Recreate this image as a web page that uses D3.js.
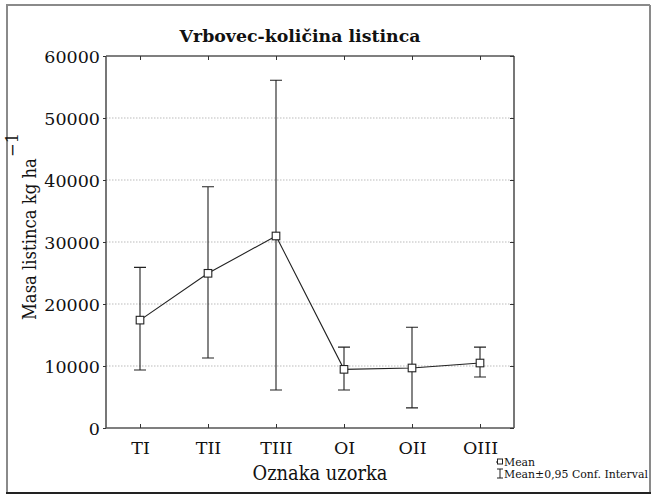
<!DOCTYPE html>
<html>
<head>
<meta charset="utf-8">
<script src="https://cdn.jsdelivr.net/npm/d3@7"></script>
<style>
  html, body { margin: 0; padding: 0; background: #fff; }
  svg { display: block; }
  text { font-family: "DejaVu Serif", "Liberation Serif", serif; fill: #111; }
</style>
</head>
<body>
<script>
// ---- data ----
const categories = ["TI", "TII", "TIII", "OI", "OII", "OIII"];
const means = [17400, 24950, 30970, 9460, 9680, 10480];
const upper = [25900, 38900, 56100, 13050, 16250, 13050];
const lower = [9350, 11300, 6130, 6130, 3250, 8230];
const yTicks = [0, 10000, 20000, 30000, 40000, 50000, 60000];
const gridTicks = [10000, 20000, 30000, 40000, 50000];
const titleText = "Vrbovec-količina listinca";
const xLabel = "Oznaka uzorka";
const yLabel = "Masa listinca kg ha";
const yLabelSup = "\u22121";
const legendItems = ["Mean", "Mean\u00b10,95 Conf. Interval"];

const W = 653, H = 495;
const plot = { left: 106, right: 514, top: 56, bottom: 428 };

const svg = d3.select("body").append("svg").attr("width", W).attr("height", H);

function fit(sel, width) {
  const node = sel.node();
  const fs = parseFloat(sel.attr("font-size"));
  const w = node.getComputedTextLength();
  sel.attr("font-size", (fs * width / w).toFixed(2));
}

// outer frame
svg.append("line").attr("x1", 7).attr("x2", 7).attr("y1", 5).attr("y2", 493).attr("stroke", "#8a8a8a").attr("stroke-width", 2);
svg.append("line").attr("x1", 6).attr("x2", 650).attr("y1", 5).attr("y2", 5).attr("stroke", "#8a8a8a").attr("stroke-width", 2);
svg.append("line").attr("x1", 650).attr("x2", 650).attr("y1", 5).attr("y2", 493).attr("stroke", "#8a8a8a").attr("stroke-width", 2);
svg.append("line").attr("x1", 6).attr("x2", 651).attr("y1", 493).attr("y2", 493).attr("stroke", "#222").attr("stroke-width", 2);

const x = d3.scalePoint().domain(categories).range([plot.left, plot.right]).padding(0.5);
const y = d3.scaleLinear().domain([0, 60000]).range([plot.bottom, plot.top]);

// grid
svg.append("g").selectAll("line").data(gridTicks).join("line")
  .attr("x1", plot.left).attr("x2", plot.right)
  .attr("y1", d => y(d)).attr("y2", d => y(d))
  .attr("stroke", "#aaa").attr("stroke-width", 0.8).attr("stroke-dasharray", "1.5,1.5");

// axes
const axL = svg.append("g").attr("transform", `translate(${plot.left},0)`)
  .call(d3.axisLeft(y).tickValues(yTicks).tickFormat(d3.format("d")).tickSize(3).tickPadding(3));
const axB = svg.append("g").attr("transform", `translate(0,${plot.bottom})`)
  .call(d3.axisBottom(x).tickSize(-4).tickPadding(14));
const axT = svg.append("g").attr("transform", `translate(0,${plot.top})`)
  .call(d3.axisTop(x).tickSize(-4).tickFormat(""));
const axR = svg.append("g").attr("transform", `translate(${plot.right},0)`)
  .call(d3.axisRight(y).tickValues(yTicks).tickSize(-4).tickFormat(""));
[axL, axB, axT, axR].forEach(g => {
  g.select(".domain").attr("stroke", "#555").attr("stroke-width", 1.6);
  g.selectAll(".tick line").attr("stroke", "#333");
});
axL.select(".domain").attr("d", `M0,${plot.top}V${plot.bottom}`);
axR.select(".domain").attr("d", `M0,${plot.top}V${plot.bottom}`);
axB.select(".domain").attr("d", `M${plot.left},0H${plot.right}`);
axT.select(".domain").attr("d", `M${plot.left},0H${plot.right}`);
axL.selectAll("text").attr("font-family", "DejaVu Serif").attr("font-size", 17.5).attr("fill", "#111").attr("dy", "0.35em");
axB.selectAll("text").attr("font-family", "DejaVu Serif").attr("font-size", 17.5).attr("fill", "#111");

// series
const data = categories.map((c, i) => ({ c, m: means[i], hi: upper[i], lo: lower[i] }));
const g = svg.append("g");
g.selectAll(".eb").data(data).join("path")
  .attr("d", d => `M${x(d.c)},${y(d.lo)}V${y(d.hi)}M${x(d.c) - 6},${y(d.hi)}h12M${x(d.c) - 6},${y(d.lo)}h12`)
  .attr("stroke", "#222").attr("stroke-width", 1.1).attr("fill", "none");
g.append("path").datum(data)
  .attr("d", d3.line().x(d => x(d.c)).y(d => y(d.m)))
  .attr("stroke", "#222").attr("stroke-width", 1.1).attr("fill", "none");
g.selectAll(".mk").data(data).join("rect")
  .attr("x", d => x(d.c) - 3.8).attr("y", d => y(d.m) - 3.8)
  .attr("width", 7.6).attr("height", 7.6)
  .attr("fill", "#fff").attr("stroke", "#222").attr("stroke-width", 1.1);

// title
const t = svg.append("text").attr("x", 300).attr("y", 42).attr("text-anchor", "middle")
  .attr("font-family", "Liberation Serif").attr("font-weight", "bold").attr("font-size", 19)
  .text(titleText);
fit(t, 241);

// x label
const xl = svg.append("text").attr("x", 320).attr("y", 480).attr("text-anchor", "middle")
  .attr("font-family", "DejaVu Serif Condensed, DejaVu Serif").attr("font-stretch", "condensed")
  .attr("font-size", 16).text(xLabel);
fit(xl, 135);

// y label
const yl = svg.append("text").attr("transform", "translate(36,320) rotate(-90)")
  .attr("font-family", "DejaVu Serif Condensed, DejaVu Serif").attr("font-stretch", "condensed")
  .attr("font-size", 17).text(yLabel);
fit(yl, 162);
const yfs = parseFloat(yl.attr("font-size"));
svg.append("text").attr("transform", "translate(18,157) rotate(-90)")
  .attr("font-size", yfs * 0.9).text(yLabelSup);

// legend
const lg = svg.append("g");
lg.append("line").attr("x1", 496).attr("x2", 503).attr("y1", 462).attr("y2", 462).attr("stroke", "#222").attr("stroke-width", 1);
lg.append("rect").attr("x", 497.5).attr("y", 459).attr("width", 5).attr("height", 5).attr("fill", "#fff").attr("stroke", "#222").attr("stroke-width", 1);
lg.append("path").attr("d", "M500,469V478M497,469h6M497,478h6").attr("stroke", "#222").attr("stroke-width", 1).attr("fill", "none");
const l1 = lg.append("text").attr("x", 504).attr("y", 465.5).attr("font-size", 12.5).text(legendItems[0]);
const l2 = lg.append("text").attr("x", 504).attr("y", 477.5).attr("font-size", 12.5).text(legendItems[1]);
fit(l2, 144);
l1.attr("font-size", l2.attr("font-size"));
</script>
</body>
</html>
